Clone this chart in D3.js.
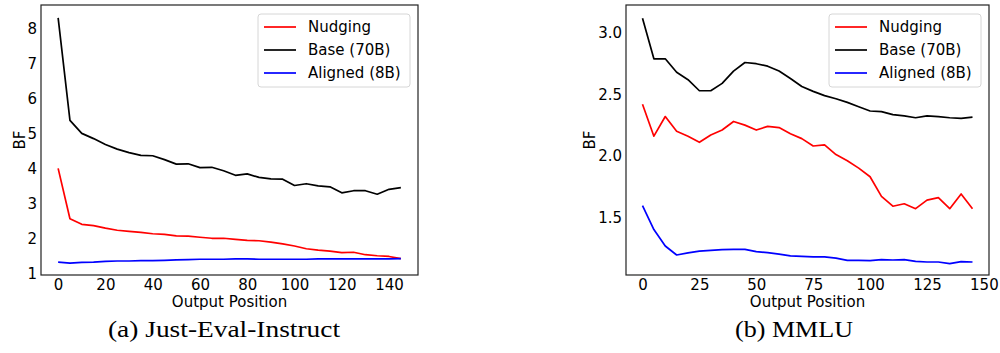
<!DOCTYPE html>
<html>
<head>
<meta charset="utf-8">
<script src="https://cdn.jsdelivr.net/npm/d3@7"></script>
<style>
  html, body { margin: 0; padding: 0; background: #fff; }
  svg { display: block; }
  text { font-family: "DejaVu Sans", sans-serif; fill: #000; }
  .caption { font-family: "Liberation Serif", "DejaVu Serif", serif; }
</style>
</head>
<body>
<svg id="fig" width="1000" height="353"></svg>
<script>
// Output positions shared by both panels
const positions = [0,5,10,15,20,25,30,35,40,45,50,55,60,65,70,75,80,85,90,95,100,105,110,115,120,125,130,135,140,145];

// (a) Just-Eval-Instruct
const justNudging = [4.0,2.56,2.4,2.36,2.29,2.23,2.2,2.17,2.13,2.11,2.07,2.06,2.03,2.0,2.0,1.97,1.94,1.93,1.89,1.84,1.78,1.7,1.66,1.63,1.59,1.6,1.53,1.5,1.48,1.42];
const justBase = [8.3,5.37,5.0,4.85,4.68,4.55,4.45,4.37,4.36,4.25,4.12,4.13,4.02,4.03,3.93,3.8,3.84,3.74,3.7,3.69,3.51,3.56,3.5,3.47,3.3,3.36,3.36,3.26,3.4,3.45];
const justAligned = [1.32,1.29,1.31,1.32,1.34,1.35,1.35,1.36,1.36,1.37,1.38,1.39,1.4,1.4,1.4,1.41,1.41,1.4,1.4,1.4,1.4,1.4,1.41,1.41,1.41,1.41,1.41,1.41,1.41,1.42];

// (b) MMLU
const mmluNudging = [2.42,2.16,2.32,2.2,2.16,2.11,2.17,2.21,2.28,2.25,2.21,2.24,2.23,2.18,2.14,2.08,2.09,2.01,1.96,1.9,1.83,1.67,1.59,1.61,1.57,1.64,1.66,1.57,1.69,1.57];
const mmluBase = [3.12,2.79,2.79,2.68,2.62,2.53,2.53,2.59,2.69,2.76,2.75,2.73,2.69,2.63,2.565,2.525,2.49,2.465,2.435,2.4,2.365,2.36,2.335,2.325,2.31,2.325,2.32,2.31,2.305,2.315];
const mmluAligned = [1.595,1.4,1.266,1.193,1.21,1.225,1.23,1.236,1.239,1.239,1.22,1.212,1.2,1.185,1.182,1.177,1.177,1.168,1.149,1.149,1.147,1.155,1.152,1.155,1.141,1.136,1.136,1.122,1.139,1.136];

// Tick labels
const justYTicks = [1,2,3,4,5,6,7,8];
const justXTicks = [0,20,40,60,80,100,120,140];
const mmluYTicks = [1.5,2.0,2.5,3.0];
const mmluXTicks = [0,25,50,75,100,125,150];

const seriesNames = ["Nudging", "Base (70B)", "Aligned (8B)"];
const seriesColors = ["#ff0000", "#000000", "#0000ff"];

const svg = d3.select("#fig");

function panel(opts) {
  const { left, right, top, bottom, yDomain, yTicks, xTicks, yFmt, series, caption, captionX, captionWidth } = opts;
  const x = d3.scaleLinear().domain([-7.25, 152.25]).range([left, right]);
  const y = d3.scaleLinear().domain(yDomain).range([bottom, top]);
  const g = svg.append("g");

  // lines
  const line = d3.line().x((d, i) => x(positions[i])).y(d => y(d));
  series.forEach((vals, k) => {
    g.append("path")
      .datum(vals)
      .attr("d", line)
      .attr("fill", "none")
      .attr("stroke", seriesColors[k])
      .attr("stroke-width", 1.7)
      .attr("stroke-linejoin", "round");
  });

  // axes (labels only, frame drawn separately)
  const xAxis = d3.axisBottom(x).tickValues(xTicks).tickSize(0).tickPadding(4);
  g.append("g").attr("transform", `translate(0,${bottom})`).call(xAxis)
    .call(s => s.select(".domain").remove())
    .selectAll("text").attr("font-size", 15).attr("font-family", "DejaVu Sans").attr("fill", "#000");
  const yAxis = d3.axisLeft(y).tickValues(yTicks).tickSize(0).tickPadding(4).tickFormat(yFmt);
  g.append("g").attr("transform", `translate(${left},0)`).call(yAxis)
    .call(s => s.select(".domain").remove())
    .selectAll("text").attr("font-size", 15).attr("font-family", "DejaVu Sans").attr("fill", "#000");

  // frame
  g.append("rect")
    .attr("x", left).attr("y", top)
    .attr("width", right - left).attr("height", bottom - top)
    .attr("fill", "none").attr("stroke", "#222").attr("stroke-width", 1.2);

  // axis titles
  g.append("text")
    .attr("x", (left + right) / 2).attr("y", 302)
    .attr("text-anchor", "middle").attr("dominant-baseline", "middle")
    .attr("font-size", 15).text("Output Position");
  g.append("text")
    .attr("transform", `translate(${left - (opts.yLabelOffset)},${(top + bottom) / 2}) rotate(-90)`)
    .attr("text-anchor", "middle").attr("dominant-baseline", "middle")
    .attr("font-size", 15).text("BF");

  // legend
  const lx = right - 160, ly = 14;
  const leg = g.append("g");
  leg.append("rect")
    .attr("x", lx).attr("y", ly).attr("width", 152).attr("height", 73)
    .attr("rx", 3).attr("fill", "#fff").attr("fill-opacity", 0.8)
    .attr("stroke", "#d6d6d6").attr("stroke-width", 1);
  seriesNames.forEach((name, k) => {
    const yy = ly + 13 + k * 23;
    leg.append("line")
      .attr("x1", lx + 6).attr("x2", lx + 38)
      .attr("y1", yy).attr("y2", yy)
      .attr("stroke", seriesColors[k]).attr("stroke-width", 1.7);
    leg.append("text")
      .attr("x", lx + 50).attr("y", yy)
      .attr("dominant-baseline", "central")
      .attr("font-size", 15).text(name);
  });

  // caption
  svg.append("text")
    .attr("class", "caption")
    .attr("x", captionX).attr("y", 332)
    .attr("text-anchor", "middle").attr("dominant-baseline", "middle")
    .attr("font-size", 23)
    .attr("textLength", captionWidth)
    .attr("lengthAdjust", "spacingAndGlyphs")
    .text(caption);
}

panel({
  left: 41, right: 418, top: 5, bottom: 275,
  yDomain: [0.95, 8.67], yTicks: justYTicks, xTicks: justXTicks,
  yFmt: d3.format("d"),
  series: [justNudging, justBase, justAligned],
  caption: "(a) Just-Eval-Instruct", captionX: 224, captionWidth: 232, yLabelOffset: 21
});

panel({
  left: 626, right: 989, top: 5, bottom: 275,
  yDomain: [1.03, 3.228], yTicks: mmluYTicks, xTicks: mmluXTicks,
  yFmt: d3.format(".1f"),
  series: [mmluNudging, mmluBase, mmluAligned],
  caption: "(b) MMLU", captionX: 794, captionWidth: 118, yLabelOffset: 36
});
</script>
</body>
</html>
